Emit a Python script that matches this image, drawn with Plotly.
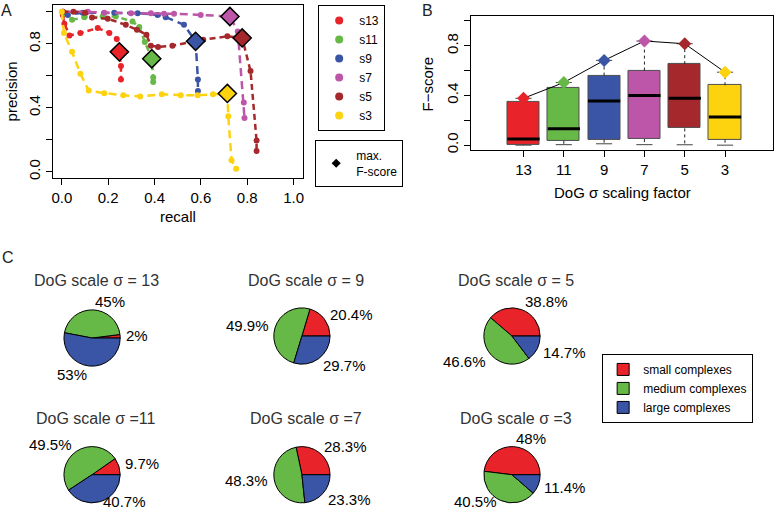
import numpy as np
import plotly.graph_objects as go

# ---------------- data ----------------
# Panel A: precision-recall curves per DoG scale
series_names = ["s13", "s11", "s9", "s7", "s5", "s3"]
recall_s13 = [0.004, 0.011, 0.033, 0.08, 0.155, 0.205, 0.237, 0.248, 0.255, 0.255]
precision_s13 = [0.98, 0.926, 0.853, 0.868, 0.899, 0.868, 0.83, 0.75, 0.661, 0.578]
recall_s11 = [0.01, 0.044, 0.097, 0.176, 0.233, 0.305, 0.334, 0.358, 0.388, 0.394, 0.394]
precision_s11 = [0.99, 0.95, 0.967, 0.971, 0.971, 0.94, 0.905, 0.812, 0.707, 0.589, 0.562]
recall_s9 = [0.005, 0.026, 0.09, 0.226, 0.327, 0.413, 0.448, 0.527, 0.577, 0.587, 0.587]
precision_s9 = [1.0, 0.981, 0.995, 0.995, 0.992, 0.981, 0.967, 0.919, 0.816, 0.578, 0.506]
recall_s7 = [0.004, 0.112, 0.183, 0.298, 0.384, 0.441, 0.484, 0.599, 0.725, 0.759, 0.785, 0.788]
precision_s7 = [1.0, 1.0, 0.995, 0.992, 0.992, 0.988, 0.988, 0.981, 0.971, 0.878, 0.434, 0.337]
recall_s5 = [0.003, 0.05, 0.1, 0.13, 0.198, 0.276, 0.324, 0.365, 0.384, 0.415, 0.477, 0.61, 0.714, 0.778, 0.814, 0.84, 0.84]
precision_s5 = [1.0, 1.0, 0.995, 0.965, 0.957, 0.919, 0.888, 0.857, 0.789, 0.781, 0.789, 0.826, 0.847, 0.837, 0.63, 0.196, 0.13]
recall_s3 = [0.0, 0.009, 0.044, 0.08, 0.116, 0.183, 0.265, 0.338, 0.431, 0.513, 0.586, 0.652, 0.714, 0.718, 0.732, 0.752]
precision_s3 = [1.0, 0.868, 0.75, 0.614, 0.508, 0.492, 0.479, 0.471, 0.485, 0.479, 0.479, 0.485, 0.49, 0.347, 0.072, 0.02]

# Panel B: F-score distributions per scale
scale_labels = ["13", "11", "9", "7", "5", "3"]
f_max = [0.377, 0.504, 0.682, 0.838, 0.816, 0.587]
f_q3 = [0.345, 0.46, 0.56, 0.60, 0.652, 0.482]
f_median = [0.05, 0.132, 0.356, 0.40, 0.377, 0.226]
f_q1 = [0.003, 0.035, 0.044, 0.049, 0.135, 0.044]
f_low = [0.0, 0.004, 0.011, 0.004, 0.003, 0.0]

# Panel C: complex size composition (%)
pie_titles = ["DoG scale σ = 13", "DoG scale σ =11", "DoG scale σ = 9",
              "DoG scale σ =7", "DoG scale σ = 5", "DoG scale σ =3"]
size_classes = ["small complexes", "medium complexes", "large complexes"]
pct_small = [2, 9.7, 20.4, 28.3, 38.8, 48]
pct_medium = [45, 49.5, 49.9, 48.3, 46.6, 40.5]
pct_large = [53, 40.7, 29.7, 23.3, 14.7, 11.4]

# ---------------- style / layout ----------------
W, H = 778, 515
FONT = "Liberation Sans, Arial, Helvetica, sans-serif"
series_colors = ["#E8242A", "#67B947", "#3A55A5", "#BD56A9", "#A5282C", "#FDD20E"]
pie_colors = ["#E8242A", "#67B947", "#3A55A5"]
dashes = ["6px,4px", "6px,4px", "8px,5px", "8px,5px", "6px,4px", "8px,5px"]

def fx(p):
    return p / W

def fy(p):
    return 1 - p / H

fig = go.Figure()

# ---- Panel A ----
recalls = [recall_s13, recall_s11, recall_s9, recall_s7, recall_s5, recall_s3]
precisions = [precision_s13, precision_s11, precision_s9, precision_s7, precision_s5, precision_s3]
best_r, best_p = [], []
for name, r, p, c, d in zip(series_names, recalls, precisions, series_colors, dashes):
    fig.add_trace(go.Scatter(x=r, y=p, mode="lines+markers", name=name,
                             line=dict(color=c, width=2.5, dash=d),
                             marker=dict(color=c, size=6),
                             showlegend=False, xaxis="x", yaxis="y"))
    ra, pa = np.array(r), np.array(p)
    f = 2 * ra * pa / (ra + pa)
    i = int(np.argmax(f))
    best_r.append(r[i])
    best_p.append(p[i])

fig.add_trace(go.Scatter(x=best_r, y=best_p, mode="markers", showlegend=False,
                         marker=dict(symbol="diamond", size=14, color=series_colors,
                                     line=dict(color="black", width=1.5)),
                         xaxis="x", yaxis="y"))

# legend-only entries for panel A
for name, c in zip(series_names, series_colors):
    fig.add_trace(go.Scatter(x=[None], y=[None], mode="markers", name=name,
                             marker=dict(color=c, size=8), legend="legend",
                             xaxis="x", yaxis="y"))
fig.add_trace(go.Scatter(x=[None], y=[None], mode="markers", name="max.<br>F-score",
                         marker=dict(color="black", size=7, symbol="diamond"),
                         legend="legend2", xaxis="x", yaxis="y"))

# ---- Panel B ----
pos = list(range(1, len(scale_labels) + 1))
fig.add_trace(go.Bar(x=pos, y=[a - b for a, b in zip(f_q3, f_q1)], base=f_q1, width=0.8,
                     marker=dict(color=series_colors, line=dict(color="#4d4d4d", width=1)),
                     showlegend=False, xaxis="x2", yaxis="y2"))
mx, my = [], []
wx, wy = [], []
cx, cy = [], []
for x, q1, q3, m, lo, hi in zip(pos, f_q1, f_q3, f_median, f_low, f_max):
    mx += [x - 0.4, x + 0.4, None]
    my += [m, m, None]
    wx += [x, x, None, x, x, None]
    wy += [q3, hi, None, q1, lo, None]
    cx += [x - 0.2, x + 0.2, None, x - 0.2, x + 0.2, None]
    cy += [hi, hi, None, lo, lo, None]
fig.add_trace(go.Scatter(x=wx, y=wy, mode="lines", line=dict(color="#222222", width=1, dash="3px,3px"),
                         showlegend=False, xaxis="x2", yaxis="y2"))
fig.add_trace(go.Scatter(x=cx, y=cy, mode="lines", line=dict(color="#444444", width=1),
                         showlegend=False, xaxis="x2", yaxis="y2"))
fig.add_trace(go.Scatter(x=mx, y=my, mode="lines", line=dict(color="black", width=3),
                         showlegend=False, xaxis="x2", yaxis="y2"))
fig.add_trace(go.Scatter(x=pos, y=f_max, mode="lines+markers",
                         line=dict(color="black", width=1),
                         marker=dict(symbol="diamond", size=10, color=series_colors),
                         showlegend=False, xaxis="x2", yaxis="y2"))

# ---- Panel C ----
# (pie centre x, pie centre y, title y) in pixels
pie_places = [(91.3, 340, 282), (91.3, 477.5, 420.5), (301.7, 338, 282),
              (301.7, 477.5, 420.5), (512.3, 338, 282), (512.3, 477.5, 420.5)]
R = 28.3
annotations = []
for k, (title, s, m, l) in enumerate(zip(pie_titles, pct_small, pct_medium, pct_large)):
    pcx, pcy, ty = pie_places[k]
    vals = [s, m, l]
    total = sum(vals)
    # R-style pie: first slice starts at 3 o'clock, slices go counter-clockwise
    rot = 90 - 360 * s / total
    fig.add_trace(go.Pie(values=vals, labels=size_classes, sort=False,
                         direction="counterclockwise", rotation=rot,
                         marker=dict(colors=pie_colors, line=dict(color="black", width=1)),
                         textinfo="none", legend="legend3",
                         domain=dict(x=[fx(pcx - R), fx(pcx + R)], y=[fy(pcy + R), fy(pcy - R)])))
    annotations.append(dict(x=fx(pcx + 4), y=fy(ty), xref="paper", yref="paper",
                            text=title, showarrow=False, xanchor="center", yanchor="middle",
                            font=dict(size=16, color="#333333", family=FONT)))
    start = 0.0
    for v in vals:
        mid = np.deg2rad((start + v / 2) / total * 360)
        start += v
        lx = pcx + R * 1.15 * np.cos(mid)
        ly = min(pcy - R * 1.3 * np.sin(mid), H - 11)
        annotations.append(dict(x=fx(lx), y=fy(ly), xref="paper", yref="paper",
                                text=f"{v:g}%", showarrow=False,
                                xanchor="left" if np.cos(mid) >= 0 else "right",
                                yanchor="middle",
                                font=dict(size=15, color="black", family=FONT)))

# panel letters and axis titles
for txt, x, y in [("A", 6, 0), ("B", 428, 0), ("C", 7, 248)]:
    annotations.append(dict(x=fx(x), y=fy(y), xref="paper", yref="paper", text=txt,
                            showarrow=False, xanchor="center", yanchor="top",
                            font=dict(size=16, color="#222222", family=FONT)))
annotations += [
    dict(x=fx(177), y=fy(218), xref="paper", yref="paper", text="recall", showarrow=False,
         xanchor="center", yanchor="middle", font=dict(size=15, color="black", family=FONT)),
    dict(x=fx(10), y=fy(92), xref="paper", yref="paper", text="precision", showarrow=False,
         textangle=-90, xanchor="center", yanchor="middle", font=dict(size=15, color="black", family=FONT)),
    dict(x=fx(623), y=fy(194), xref="paper", yref="paper", text="DoG σ scaling factor", showarrow=False,
         xanchor="center", yanchor="middle", font=dict(size=15, color="black", family=FONT)),
    dict(x=fx(428), y=fy(84), xref="paper", yref="paper", text="F−score", showarrow=False,
         textangle=-90, xanchor="center", yanchor="middle", font=dict(size=15, color="black", family=FONT)),
]

yt = [0, 0.2, 0.4, 0.6, 0.8, 1.0]
yt_text = ["0.0", "", "0.4", "", "0.8", ""]
axis_common = dict(showline=True, linecolor="black", linewidth=1, mirror=True,
                   ticks="outside", ticklen=6, tickcolor="black", showgrid=False,
                   zeroline=False, tickfont=dict(size=15, color="black", family=FONT))

legend_common = dict(bordercolor="black", borderwidth=1, bgcolor="white",
                     font=dict(size=12, color="black", family=FONT),
                     xanchor="left", yanchor="top", itemclick=False)

fig.update_layout(
    width=W, height=H, autosize=False,
    margin=dict(l=0, r=0, t=0, b=0),
    paper_bgcolor="white", plot_bgcolor="white",
    font=dict(family=FONT, color="black"),
    showlegend=True,
    xaxis=dict(domain=[fx(51.7), fx(302.7)], range=[-0.04, 1.04], anchor="y",
               tickvals=yt, ticktext=["0.0", "0.2", "0.4", "0.6", "0.8", "1.0"], **axis_common),
    yaxis=dict(domain=[fy(179.3), fy(5.5)], range=[-0.04, 1.04], anchor="x",
               tickvals=yt, ticktext=yt_text, tickangle=-90, **axis_common),
    xaxis2=dict(domain=[fx(471.7), fx(774)], range=[-0.29, 7.19], anchor="y2",
                tickvals=pos, ticktext=scale_labels, **axis_common),
    yaxis2=dict(domain=[fy(151), fy(16)], range=[-0.04, 1.04], anchor="x2",
                tickvals=yt, ticktext=yt_text, tickangle=-90, **axis_common),
    legend=dict(x=fx(318), y=fy(5), **legend_common),
    legend2=dict(x=fx(315), y=fy(141), **legend_common),
    legend3=dict(x=fx(602.7), y=fy(356), **legend_common),
    annotations=annotations,
    bargap=0,
)

fig.write_html("out.html", config={"displayModeBar": False},
               post_script="document.body.style.margin='0px';")
